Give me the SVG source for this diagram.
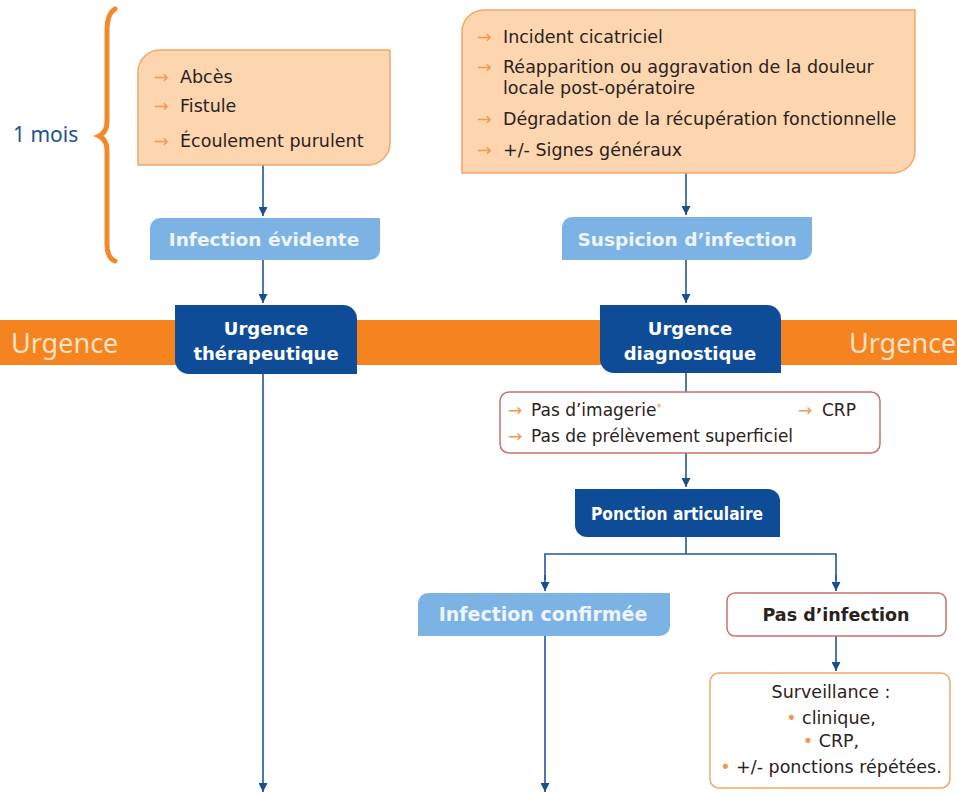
<svg xmlns="http://www.w3.org/2000/svg" width="957" height="794" viewBox="0 0 957 794">
<defs>
<marker id="ah" viewBox="0 0 10 10" refX="10" refY="5" markerWidth="9" markerHeight="9" markerUnits="userSpaceOnUse" orient="auto">
<path d="M0,0 L10,5 L0,10 z" fill="#1a4f8f"/>
</marker>
<style>
.peach{fill:#fdd6b0;stroke:#f2a868;stroke-width:1.5}
.lblue{fill:#7db3e4}
.dblue{fill:#0f4c97}
.wbox{fill:#ffffff;stroke:#c7736b;stroke-width:1.5}
.obox{fill:#ffffff;stroke:#f2a868;stroke-width:1.5}
.t{font-family:"DejaVu Sans",sans-serif;fill:#2a2220;font-size:17.5px}
.ts{font-family:"DejaVu Sans",sans-serif;fill:#2a2220;font-size:17px}
.ar{fill:#ee9a52}
.wl{font-family:"DejaVu Sans",sans-serif;font-weight:bold;fill:#ffffff;font-size:18px;text-anchor:middle}
.lb{font-family:"DejaVu Sans",sans-serif;font-weight:bold;fill:#eef5fc;font-size:18.5px;text-anchor:middle}
.bk{font-family:"DejaVu Sans",sans-serif;font-weight:bold;fill:#2a2220;font-size:17.5px;text-anchor:middle}
.urg{font-family:"Noto Sans","Open Sans",sans-serif;fill:#fde2c6;font-size:27px}
.con{fill:none;stroke:#1f5896;stroke-width:1.6}
</style>
</defs>
<rect width="957" height="794" fill="#ffffff"/>

<g id="band">
<rect x="0" y="320" width="957" height="45" fill="#f5831f"/>
<text class="urg" x="11" y="353">Urgence</text>
<text class="urg" x="849" y="353">Urgence</text>
</g>

<g id="brace">
<path d="M115,9 Q107,14 107,30 L107,122 Q107,132 99,136 Q107,140 107,150 L107,244 Q107,258 115,261" fill="none" stroke="#f08a2c" stroke-width="5" stroke-linecap="round"/>
<text x="13" y="142" font-family="Noto Sans, Open Sans, sans-serif" font-size="21" fill="#23518f">1 mois</text>
</g>

<g id="connectors">
<line class="con" x1="263" y1="165" x2="263" y2="216" marker-end="url(#ah)"/>
<line class="con" x1="263" y1="260" x2="263" y2="303" marker-end="url(#ah)"/>
<line class="con" x1="263" y1="374" x2="263" y2="792" marker-end="url(#ah)"/>
<line class="con" x1="686" y1="173" x2="686" y2="215" marker-end="url(#ah)"/>
<line class="con" x1="686" y1="260" x2="686" y2="303" marker-end="url(#ah)"/>
<line class="con" x1="686" y1="373" x2="686" y2="392"/>
<line class="con" x1="686" y1="453" x2="686" y2="487" marker-end="url(#ah)"/>
<polyline class="con" points="686,537 686,554"/>
<polyline class="con" points="545,580 545,554 836,554 836,580"/>
<line class="con" x1="545" y1="575" x2="545" y2="591" marker-end="url(#ah)"/>
<line class="con" x1="836" y1="575" x2="836" y2="591" marker-end="url(#ah)"/>
<line class="con" x1="545" y1="636" x2="545" y2="792" marker-end="url(#ah)"/>
<line class="con" x1="836" y1="636" x2="836" y2="671" marker-end="url(#ah)"/>
</g>

<g id="n-signes-evidents">
<path class="peach" d="M160,50 H390 V143 A22,22 0 0 1 368,165 H138 V72 A22,22 0 0 1 160,50 Z"/>
<text class="t" x="154" y="83"><tspan class="ar">→</tspan><tspan x="180">Abcès</tspan></text>
<text class="t" x="154" y="112"><tspan class="ar">→</tspan><tspan x="180">Fistule</tspan></text>
<text class="t" x="154" y="147"><tspan class="ar">→</tspan><tspan x="180">Écoulement purulent</tspan></text>
</g>

<g id="n-infection-evidente">
<path class="lblue" d="M160,218 H380 V250 A10,10 0 0 1 370,260 H150 V228 A10,10 0 0 1 160,218 Z"/>
<text class="lb" x="264" y="246">Infection évidente</text>
</g>

<g id="n-urgence-therapeutique">
<path class="dblue" d="M175,305 H343 A14,14 0 0 1 357,319 V374 H189 A14,14 0 0 1 175,360 Z"/>
<text class="wl" x="266" y="335">Urgence</text>
<text class="wl" x="266" y="360">thérapeutique</text>
</g>

<g id="n-signes-suspects">
<path class="peach" d="M484,10 H915 V151 A22,22 0 0 1 893,173 H462 V32 A22,22 0 0 1 484,10 Z"/>
<text class="t" x="477" y="43"><tspan class="ar">→</tspan><tspan x="503">Incident cicatriciel</tspan></text>
<text class="t" x="477" y="73"><tspan class="ar">→</tspan><tspan x="503">Réapparition ou aggravation de la douleur</tspan></text>
<text class="t" x="503" y="94">locale post-opératoire</text>
<text class="t" x="477" y="125"><tspan class="ar">→</tspan><tspan x="503">Dégradation de la récupération fonctionnelle</tspan></text>
<text class="t" x="477" y="156"><tspan class="ar">→</tspan><tspan x="503">+/- Signes généraux</tspan></text>
</g>

<g id="n-suspicion">
<path class="lblue" d="M572,217 H812 V250 A10,10 0 0 1 802,260 H562 V227 A10,10 0 0 1 572,217 Z"/>
<text class="lb" x="687" y="246">Suspicion d’infection</text>
</g>

<g id="n-urgence-diagnostique">
<path class="dblue" d="M600,305 H767 A14,14 0 0 1 781,319 V373 H614 A14,14 0 0 1 600,359 Z"/>
<text class="wl" x="690" y="335">Urgence</text>
<text class="wl" x="690" y="360">diagnostique</text>
</g>

<g id="n-examens">
<rect class="wbox" x="500" y="392" width="380" height="61" rx="9"/>
<text class="ts" x="508" y="416"><tspan class="ar">→</tspan><tspan x="531">Pas d’imagerie</tspan><tspan class="ar" style="font-size:10px" dy="-5">*</tspan></text>
<text class="ts" x="798" y="416"><tspan class="ar">→</tspan><tspan x="822">CRP</tspan></text>
<text class="ts" x="508" y="442"><tspan class="ar">→</tspan><tspan x="531">Pas de prélèvement superficiel</tspan></text>
</g>

<g id="n-ponction">
<path class="dblue" d="M575,489 H768 A12,12 0 0 1 780,501 V537 H587 A12,12 0 0 1 575,525 Z"/>
<text class="wl" x="677" y="520" style="font-size:17.5px" textLength="172" lengthAdjust="spacingAndGlyphs">Ponction articulaire</text>
</g>

<g id="n-infection-confirmee">
<path class="lblue" d="M428,593 H670 V626 A10,10 0 0 1 660,636 H418 V603 A10,10 0 0 1 428,593 Z"/>
<text class="lb" x="543" y="621" style="font-size:19px">Infection confirmée</text>
</g>

<g id="n-pas-infection">
<rect class="wbox" x="727" y="593" width="219" height="43" rx="8"/>
<text class="bk" x="836" y="621">Pas d’infection</text>
</g>

<g id="n-surveillance">
<rect class="obox" x="710" y="673" width="240" height="115" rx="9"/>
<text class="ts" x="831" y="698" style="text-anchor:middle;font-size:17.5px">Surveillance :</text>
<text class="ts" x="831" y="724" style="text-anchor:middle;font-size:17.5px"><tspan class="ar">•</tspan> clinique,</text>
<text class="ts" x="831" y="747" style="text-anchor:middle;font-size:17.5px"><tspan class="ar">•</tspan> CRP,</text>
<text class="ts" x="831" y="773" style="text-anchor:middle;font-size:17.5px"><tspan class="ar">•</tspan> +/- ponctions répétées.</text>
</g>
</svg>
